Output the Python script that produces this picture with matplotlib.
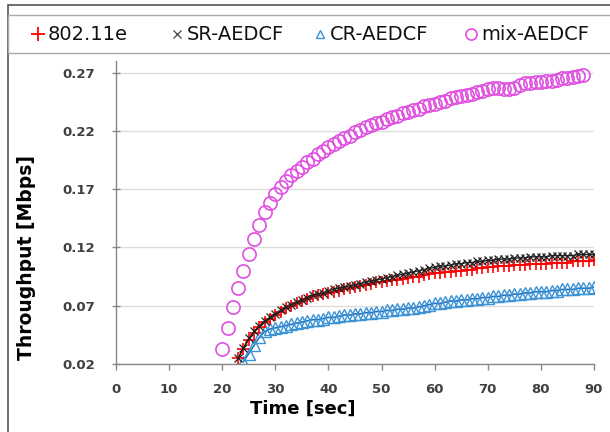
import matplotlib
matplotlib.use('Agg')
import matplotlib.pyplot as plt
from matplotlib.patches import Rectangle
from matplotlib.lines import Line2D

# time axis (sec) for each series
t_mix = list(range(20, 89))
t_e = list(range(23, 91))
t_sr = list(range(23, 91))
t_cr = list(range(24, 91))

# throughput values (Mbps)
mix_aedcf = [0.033, 0.051, 0.069, 0.085, 0.100, 0.114, 0.127, 0.139, 0.150, 0.158,
             0.166, 0.172, 0.177, 0.182, 0.186, 0.189, 0.193, 0.196, 0.200, 0.203,
             0.206, 0.209, 0.211, 0.214, 0.216, 0.219, 0.221, 0.223, 0.225, 0.227,
             0.228, 0.230, 0.232, 0.233, 0.235, 0.236, 0.238, 0.239, 0.241, 0.242,
             0.243, 0.245, 0.246, 0.248, 0.249, 0.250, 0.251, 0.252, 0.253, 0.254,
             0.256, 0.257, 0.257, 0.256, 0.256, 0.257, 0.259, 0.261, 0.261, 0.262,
             0.262, 0.263, 0.263, 0.264, 0.265, 0.265, 0.266, 0.267, 0.268]

ieee_80211e = [0.025, 0.033, 0.041, 0.047, 0.052, 0.056, 0.059, 0.062, 0.065, 0.068,
               0.070, 0.072, 0.074, 0.076, 0.078, 0.079, 0.080, 0.081, 0.082, 0.083,
               0.084, 0.085, 0.086, 0.087, 0.088, 0.089, 0.090, 0.090, 0.091, 0.092,
               0.092, 0.093, 0.094, 0.095, 0.095, 0.096, 0.097, 0.098, 0.098, 0.099,
               0.099, 0.100, 0.100, 0.101, 0.101, 0.102, 0.102, 0.103, 0.103, 0.104,
               0.104, 0.104, 0.105, 0.105, 0.105, 0.106, 0.106, 0.106, 0.106, 0.107,
               0.107, 0.107, 0.107, 0.108, 0.108, 0.108, 0.108, 0.109]

sr_aedcf = [0.025, 0.034, 0.042, 0.048, 0.053, 0.057, 0.060, 0.063, 0.066, 0.069,
            0.071, 0.073, 0.075, 0.077, 0.079, 0.080, 0.081, 0.083, 0.084, 0.085,
            0.086, 0.087, 0.088, 0.089, 0.090, 0.091, 0.092, 0.093, 0.094, 0.095,
            0.096, 0.097, 0.098, 0.099, 0.100, 0.101, 0.102, 0.103, 0.104, 0.104,
            0.105, 0.106, 0.106, 0.107, 0.107, 0.108, 0.108, 0.109, 0.109, 0.110,
            0.110, 0.110, 0.111, 0.111, 0.111, 0.112, 0.112, 0.112, 0.112, 0.113,
            0.113, 0.113, 0.113, 0.113, 0.114, 0.114, 0.114, 0.114]

cr_aedcf = [0.022, 0.029, 0.036, 0.043, 0.048, 0.050, 0.051, 0.052, 0.053, 0.054,
            0.055, 0.056, 0.057, 0.058, 0.058, 0.059, 0.060, 0.060, 0.061, 0.062,
            0.062, 0.063, 0.063, 0.064, 0.064, 0.065, 0.065, 0.066, 0.066, 0.067,
            0.067, 0.068, 0.068, 0.069, 0.070, 0.071, 0.072, 0.072, 0.073, 0.074,
            0.074, 0.075, 0.075, 0.076, 0.076, 0.077, 0.077, 0.078, 0.078, 0.079,
            0.079, 0.080, 0.080, 0.081, 0.081, 0.082, 0.082, 0.082, 0.083, 0.083,
            0.084, 0.084, 0.084, 0.085, 0.085, 0.085, 0.086]

x_ticks = [0, 10, 20, 30, 40, 50, 60, 70, 80, 90]
y_ticks = [0.02, 0.07, 0.12, 0.17, 0.22, 0.27]

W, H = 610, 432
fig = plt.figure(figsize=(6.1, 4.32), dpi=100)

# outer chart frame and legend box (Excel style)
fig.patches.append(Rectangle((8 / W, 1 - 445 / H), 700 / W, 440 / H,
                             transform=fig.transFigure, fill=False,
                             edgecolor='#555555', linewidth=1.2))
fig.patches.append(Rectangle((8 / W, 1 - 53 / H), 700 / W, 38 / H,
                             transform=fig.transFigure, fill=False,
                             edgecolor='#aaaaaa', linewidth=1.0))

ax = fig.add_axes([116 / W, 1 - 364 / H, 478 / W, 303 / H])

ax.plot(t_e, ieee_80211e, color='red', marker='+', markersize=9, mew=1.2,
        linewidth=1.0, zorder=3)
ax.plot(t_sr, sr_aedcf, color='#222222', marker='x', markersize=6, mew=0.9,
        linewidth=1.0, zorder=4)
ax.plot(t_cr, cr_aedcf, color='#1f6fc0', marker='^', markersize=8,
        markerfacecolor='none', markeredgecolor='#3a93d6', mew=1.0,
        linewidth=1.2, zorder=2)
ax.plot(t_mix, mix_aedcf, linestyle='none', marker='o', markersize=9.5,
        markerfacecolor='none', markeredgecolor='#e050e0', mew=1.2, zorder=2)

ax.set_xlim(0, 90)
ax.set_ylim(0.02, 0.28)
ax.set_xticks(x_ticks)
ax.set_yticks(y_ticks)
ax.set_yticklabels(['%.2f' % v for v in y_ticks])
ax.grid(axis='y', color='#dddddd', linewidth=1.0)
ax.set_axisbelow(True)
for s in ['top', 'right']:
    ax.spines[s].set_visible(False)
for s in ['left', 'bottom']:
    ax.spines[s].set_color('#888888')
    ax.spines[s].set_linewidth(1.0)
ax.tick_params(axis='both', colors='#888888', width=1.0,
               labelcolor='#404040', labelsize=9.5)
ax.tick_params(axis='x', length=4, pad=10)
ax.tick_params(axis='y', direction='inout', length=6, pad=12)
for lab in ax.get_xticklabels() + ax.get_yticklabels():
    lab.set_fontweight('bold')

ax.set_xlabel('Time [sec]', fontsize=13, fontweight='bold')
ax.xaxis.set_label_coords((303 - 116) / 478, (364 - 400) / 303)
ax.set_ylabel('Throughput [Mbps]', fontsize=13.5, fontweight='bold')
ax.yaxis.set_label_coords((36 - 116) / 478, (364 - 257) / 303)

# legend entries placed across the top box
leg_labels = ['802.11e', 'SR-AEDCF', 'CR-AEDCF', 'mix-AEDCF']
leg_marker_x = [38, 177, 320, 471]
leg_styles = [dict(marker='+', color='red', markersize=10, mew=1.3),
              dict(marker='x', color='#555555', markersize=6, mew=1.0),
              dict(marker='^', markerfacecolor='none', markeredgecolor='#3a93d6',
                   markersize=6, mew=1.0),
              dict(marker='o', markerfacecolor='none', markeredgecolor='#e050e0',
                   markersize=8, mew=1.2)]
ly = 1 - 34 / H
for lab, mx, st in zip(leg_labels, leg_marker_x, leg_styles):
    fig.add_artist(Line2D([mx / W], [ly], linestyle='none',
                          transform=fig.transFigure, **st))
    fig.text((mx + 10) / W, ly, lab, fontsize=14, color='#111111',
             ha='left', va='center')

plt.savefig('out.png', dpi=100)
